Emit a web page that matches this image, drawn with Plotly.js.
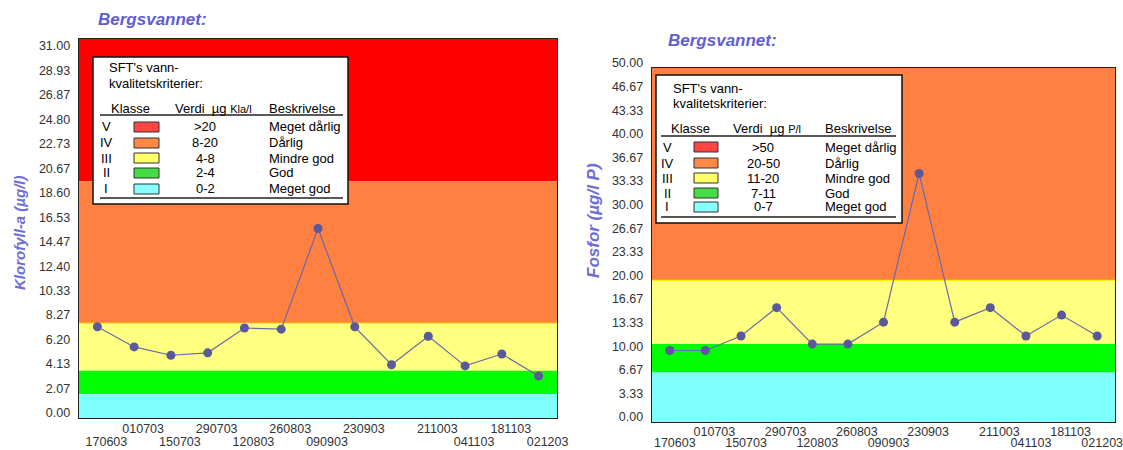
<!DOCTYPE html>
<html><head><meta charset="utf-8">
<script src="https://cdn.plot.ly/plotly-3.0.1.min.js"></script>
<style>html,body{margin:0;padding:0;background:#fff}</style>
</head><body><div id="chart" style="width:1123px;height:450px"></div>
<script>
// ---------- data ----------
const dateLabels = ["170603","010703","150703","290703","120803","260803","090903","230903","","211003","041103","181103","021203"];
const klorofyll = [7.7, 6.0, 5.3, 5.5, 7.6, 7.5, 16.0, 7.7, 4.5, 6.9, 4.4, 5.4, 3.55];
const fosfor = [10.1, 10.1, 12.15, 16.15, 11.0, 11.0, 14.1, 35.1, 14.1, 16.15, 12.15, 15.1, 12.15];
const klorTicks = ["0.00","2.07","4.13","6.20","8.27","10.33","12.40","14.47","16.53","18.60","20.67","22.73","24.80","26.87","28.93","31.00"];
const fosTicks = ["0.00","3.33","6.67","10.00","13.33","16.67","20.00","23.33","26.67","30.00","33.33","36.67","40.00","43.33","46.67","50.00"];
const klorMax = 32, fosMax = 50;
const classNames = ["V","IV","III","II","I"];
const bandColors = ["#ff0000","#ff8040","#ffff80","#00ff00","#80ffff"];
const swatchColors = ["#ff4444","#ff8844","#ffff66","#44dd44","#88ffff"];
const descriptions = ["Meget dårlig","Dårlig","Mindre god","God","Meget god"];
const klorLimits = [20, 8, 4, 2, 0];
const fosLimits = [50, 20, 11, 7, 0];
const klorRanges = [">20","8-20","4-8","2-4","0-2"];
const fosRanges = [">50","20-50","11-20","7-11","0-7"];
const titleText = "Bergsvannet:";
const klorTitle = "Klorofyll-a (µg/l)";
const fosTitle = "Fosfor (µg/l P)";
const legendTitle1 = "SFT's vann-";
const legendTitle2 = "kvalitetskriterier:";
const klorUnit = "Kla/l", fosUnit = "P/l";

// ---------- layout helpers ----------
const W = 1123, H = 450;
const FONT = "Arial, 'Liberation Sans', sans-serif";
const X = px => px / W;
const Y = py => 1 - py / H;
const shapes = [], annotations = [];

function bands(limits, max, xref, yref) {
  limits.forEach((lo, i) => {
    const hi = i === 0 ? max : Math.min(limits[i - 1], max);
    if (lo >= hi) return;
    shapes.push({type: "rect", xref: xref + " domain", yref: yref, x0: 0, x1: 1, y0: lo, y1: hi,
      fillcolor: bandColors[i], line: {width: 0}, layer: "below"});
  });
  shapes.push({type: "line", xref: xref + " domain", yref: yref, x0: 0, x1: 1, y0: limits[1], y1: limits[1],
    line: {color: "#ffee00", width: 1.2}, layer: "below"});
}
bands(klorLimits, klorMax, "x", "y");
bands(fosLimits, fosMax, "x2", "y2");

function legend(b, o, ranges, unit) {
  const txt = (x, y, t, anchor, size) => annotations.push({xref: "paper", yref: "paper", x: X(x), y: Y(y),
    text: t, showarrow: false, xanchor: anchor, yanchor: "middle", borderpad: 0,
    font: {family: FONT, size: size || 13, color: "#000"}});
  shapes.push({type: "rect", xref: "paper", yref: "paper", x0: X(b.x0), x1: X(b.x1), y0: Y(b.y0), y1: Y(b.y1),
    fillcolor: "#fff", line: {color: "#111", width: 1.5}, layer: "above"});
  txt(b.x0 + o.textX, b.y0 + o.l1, legendTitle1, "left", 13);
  txt(b.x0 + o.textX, b.y0 + o.l2, legendTitle2, "left", 13);
  txt(b.x0 + o.klX, b.y0 + o.head, "Klasse", "left", 13);
  txt(b.x0 + o.verdiX, b.y0 + o.head, "Verdi  µg <span style='font-size:11px'>" + unit + "</span>", "left", 13);
  txt(b.x0 + o.descX, b.y0 + o.head, "Beskrivelse", "left", 13);
  [o.hl, o.bl].forEach(ly => shapes.push({type: "line", xref: "paper", yref: "paper",
    x0: X(b.x0 + o.lx0), x1: X(b.x0 + o.lx1), y0: Y(b.y0 + ly), y1: Y(b.y0 + ly), line: {color: "#222", width: 1.3}, layer: "above"}));
  classNames.forEach((c, i) => {
    const ry = b.y0 + o.rows[i];
    txt(b.x0 + o.numX, ry, c, "center", 13);
    shapes.push({type: "rect", xref: "paper", yref: "paper", x0: X(b.x0 + o.sw0), x1: X(b.x0 + o.sw1),
      y0: Y(ry - 5), y1: Y(ry + 5), fillcolor: swatchColors[i], line: {color: "#333", width: 1}, layer: "above"});
    txt(b.x0 + o.valX, ry, ranges[i], "center", 13);
    txt(b.x0 + o.descX, ry, descriptions[i], "left", 13);
  });
}
legend({x0: 93, y0: 57, x1: 348, y1: 204},
  {textX: 15, l1: 11, l2: 27, head: 51, klX: 17, verdiX: 81, descX: 175, hl: 58, bl: 141, lx0: 7, lx1: 250,
   rows: [70, 86, 101, 116, 132], numX: 13, sw0: 41, sw1: 66, valX: 112}, klorRanges, klorUnit);
legend({x0: 656, y0: 75, x1: 902, y1: 223},
  {textX: 16, l1: 13, l2: 29, head: 54, klX: 14, verdiX: 76, descX: 168, hl: 61, bl: 142, lx0: 5, lx1: 240,
   rows: [72, 88, 103, 118, 132], numX: 11, sw0: 38, sw1: 62, valX: 107}, fosRanges, fosUnit);

const titleFont = {family: FONT, size: 17, color: "#5e5ed4"};
annotations.push({xref: "paper", yref: "paper", x: X(97), y: Y(20), text: "<b><i>" + titleText + "</i></b>",
  showarrow: false, xanchor: "left", yanchor: "middle", borderpad: 0, font: titleFont});
annotations.push({xref: "paper", yref: "paper", x: X(667), y: Y(40), text: "<b><i>" + titleText + "</i></b>",
  showarrow: false, xanchor: "left", yanchor: "middle", borderpad: 0, font: titleFont});
const ytFont = {family: FONT, size: 15, color: "#6e6ed8"};
annotations.push({xref: "paper", yref: "paper", x: X(19), y: Y(233), text: "<b><i>" + klorTitle + "</i></b>",
  showarrow: false, textangle: -90, xanchor: "center", yanchor: "middle", font: ytFont});
annotations.push({xref: "paper", yref: "paper", x: X(594), y: Y(221), text: "<b><i>" + fosTitle + "</i></b>",
  showarrow: false, textangle: -90, xanchor: "center", yanchor: "middle", font: Object.assign({}, ytFont, {size: 17})});

const idx = dateLabels.map((d, i) => i);
const oddIdx = idx.filter(i => i % 2 === 1), evenIdx = idx.filter(i => i % 2 === 0);

const lineStyle = {color: "#6a6aaa", width: 1.2};
const markerStyle = {symbol: "circle", size: 9, color: "#5a5a9a"};
const hidden = {mode: "markers", marker: {opacity: 0, size: 1}, showlegend: false, hoverinfo: "skip"};
const traces = [
  {x: idx, y: klorofyll, xaxis: "x", yaxis: "y", mode: "lines+markers", line: lineStyle, marker: markerStyle, showlegend: false, hoverinfo: "skip"},
  {x: idx, y: fosfor, xaxis: "x2", yaxis: "y2", mode: "lines+markers", line: lineStyle, marker: markerStyle, showlegend: false, hoverinfo: "skip"},
  Object.assign({x: idx, y: klorofyll, xaxis: "x3", yaxis: "y"}, hidden),
  Object.assign({x: idx, y: fosfor, xaxis: "x4", yaxis: "y2"}, hidden)
];

const tickFont = {family: FONT, size: 12.5, color: "#333"};
const xRange = [-0.5, dateLabels.length - 0.5];
const xUpper = {range: xRange, tickmode: "array", tickvals: oddIdx, ticktext: oddIdx.map(i => dateLabels[i]),
  tickangle: 0, ticks: "", showgrid: false, zeroline: false, showline: true, mirror: true, linecolor: "#222", linewidth: 1.3,
  tickfont: tickFont, ticklabelshift: 9, ticklabelstandoff: -1, ticklabeloverflow: "allow", fixedrange: true};
const xLower = {range: xRange, tickmode: "array", tickvals: evenIdx, ticktext: evenIdx.map(i => dateLabels[i]),
  tickangle: 0, ticks: "", showgrid: false, zeroline: false, showline: false, side: "bottom",
  tickfont: tickFont, ticklabelshift: 9, ticklabelstandoff: 14, ticklabeloverflow: "allow", fixedrange: true};
const yBase = {tickmode: "array", ticks: "", showgrid: false, zeroline: false, showline: true, mirror: true,
  linecolor: "#222", linewidth: 1.3, tickfont: tickFont, ticklabelstandoff: 5, ticklabelshift: -5, fixedrange: true};

const layout = {
  width: W, height: H, margin: {l: 0, r: 0, t: 0, b: 0}, paper_bgcolor: "#fff", plot_bgcolor: "#fff", showlegend: false,
  xaxis: Object.assign({}, xUpper, {domain: [X(79), X(557)], anchor: "y"}),
  xaxis3: Object.assign({}, xLower, {overlaying: "x", anchor: "y"}),
  yaxis: Object.assign({}, yBase, {domain: [Y(418), Y(39)], range: [0, klorMax], anchor: "x",
    tickvals: klorTicks.map(parseFloat), ticktext: klorTicks}),
  xaxis2: Object.assign({}, xUpper, {domain: [X(652), X(1115)], anchor: "y2", ticklabelstandoff: -2}),
  xaxis4: Object.assign({}, xLower, {overlaying: "x2", anchor: "y2", ticklabelstandoff: 11, ticklabelshift: 5}),
  yaxis2: Object.assign({}, yBase, {domain: [Y(422), Y(68)], range: [0, fosMax], anchor: "x2",
    tickvals: fosTicks.map(parseFloat), ticktext: fosTicks}),
  shapes: shapes, annotations: annotations
};
Plotly.newPlot("chart", traces, layout, {displayModeBar: false, staticPlot: true});
</script></body></html>
